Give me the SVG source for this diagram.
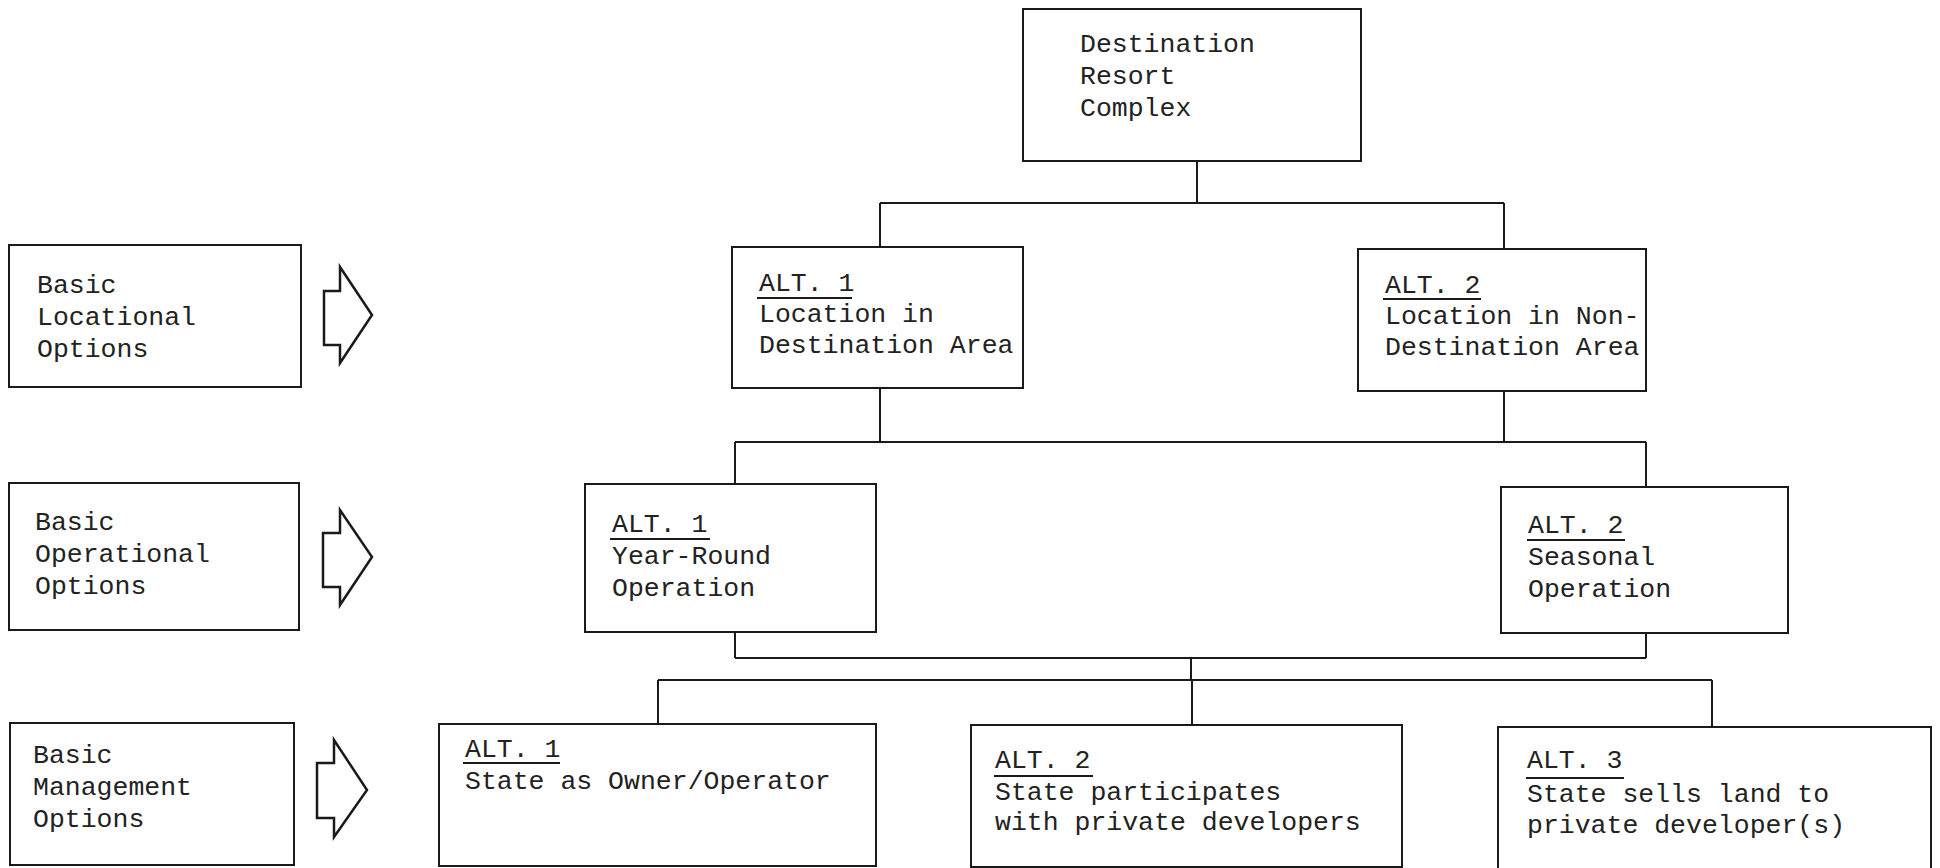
<svg xmlns="http://www.w3.org/2000/svg" width="1940" height="868" viewBox="0 0 1940 868">
<style>
.box{fill:none;stroke:#1a1a1a;stroke-width:2}
.ln{fill:none;stroke:#1a1a1a;stroke-width:2}
.arr{fill:none;stroke:#1a1a1a;stroke-width:2.5;stroke-linejoin:miter}
text{font-family:"Liberation Mono","DejaVu Sans Mono",monospace;font-size:26.5px;fill:#222}
</style>
<rect width="1940" height="868" fill="#fff"/>
<g id="connectors">
<path class="ln" d="M1197 161V203M880 203H1504M880 203V247M1504 203V249"/>
<path class="ln" d="M880 388V442M1504 391V442M735 442H1646M735 442V484M1646 442V487"/>
<path class="ln" d="M735 632V658M1646 633V658M735 658H1646M1191 658V680M658 680H1712M658 680V724M1192 680V725M1712 680V727"/>
</g>
<g id="n-root">
<rect class="box" x="1023" y="9" width="338" height="152"/>
<text x="1080" y="52">Destination</text>
<text x="1080" y="84">Resort</text>
<text x="1080" y="116">Complex</text>
</g>
<g id="n-label-loc">
<rect class="box" x="9" y="245" width="292" height="142"/>
<text x="37" y="293">Basic</text>
<text x="37" y="325">Locational</text>
<text x="37" y="357">Options</text>
</g>
<g id="n-arrow-loc">
<polygon class="arr" points="324,291 340,291 340,267 372,315 340,363 340,345 324,345"/>
</g>
<g id="n-label-op">
<rect class="box" x="9" y="483" width="290" height="147"/>
<text x="35" y="530">Basic</text>
<text x="35" y="562">Operational</text>
<text x="35" y="594">Options</text>
</g>
<g id="n-arrow-op">
<polygon class="arr" points="323,533 340,533 340,510 372,557 340,605 340,587 323,587"/>
</g>
<g id="n-label-mgmt">
<rect class="box" x="10" y="723" width="284" height="142"/>
<text x="33" y="763">Basic</text>
<text x="33" y="795">Management</text>
<text x="33" y="827">Options</text>
</g>
<g id="n-arrow-mgmt">
<polygon class="arr" points="317,763 334,763 334,740 367,790 334,837 334,818 317,818"/>
</g>
<g id="n-loc1">
<rect class="box" x="732" y="247" width="291" height="141"/>
<text x="759" y="291">ALT. 1</text>
<line class="ln" x1="757" y1="298" x2="852" y2="298"/>
<text x="759" y="322">Location in</text>
<text x="759" y="353">Destination Area</text>
</g>
<g id="n-loc2">
<rect class="box" x="1358" y="249" width="288" height="142"/>
<text x="1385" y="293">ALT. 2</text>
<line class="ln" x1="1383" y1="299" x2="1481" y2="299"/>
<text x="1385" y="324">Location in Non-</text>
<text x="1385" y="355">Destination Area</text>
</g>
<g id="n-op1">
<rect class="box" x="585" y="484" width="291" height="148"/>
<text x="612" y="532">ALT. 1</text>
<line class="ln" x1="610" y1="539" x2="710" y2="539"/>
<text x="612" y="564">Year-Round</text>
<text x="612" y="596">Operation</text>
</g>
<g id="n-op2">
<rect class="box" x="1501" y="487" width="287" height="146"/>
<text x="1528" y="533">ALT. 2</text>
<line class="ln" x1="1527" y1="540" x2="1625" y2="540"/>
<text x="1528" y="565">Seasonal</text>
<text x="1528" y="597">Operation</text>
</g>
<g id="n-mgmt1">
<rect class="box" x="439" y="724" width="437" height="142"/>
<text x="465" y="757">ALT. 1</text>
<line class="ln" x1="463" y1="763" x2="560" y2="763"/>
<text x="465" y="789">State as Owner/Operator</text>
</g>
<g id="n-mgmt2">
<rect class="box" x="971" y="725" width="431" height="142"/>
<text x="995" y="768">ALT. 2</text>
<line class="ln" x1="994" y1="776" x2="1093" y2="776"/>
<text x="995" y="800">State participates</text>
<text x="995" y="830">with private developers</text>
</g>
<g id="n-mgmt3">
<rect class="box" x="1498" y="727" width="433" height="145"/>
<text x="1527" y="768">ALT. 3</text>
<line class="ln" x1="1526" y1="778" x2="1624" y2="778"/>
<text x="1527" y="802">State sells land to</text>
<text x="1527" y="833">private developer(s)</text>
</g>
</svg>
